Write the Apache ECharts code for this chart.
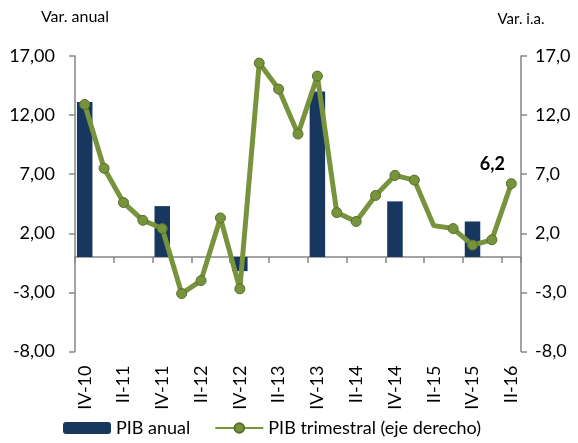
<!DOCTYPE html>
<html>
<head>
<meta charset="utf-8">
<script src="https://cdn.jsdelivr.net/npm/echarts@6/dist/echarts.min.js"></script>
<style>
  html, body { margin: 0; padding: 0; background: #fff; }
  #chart1 { width: 578px; height: 443px; }
</style>
</head>
<body>
<div id="chart1"></div>
<script>
// trimestres
var quarters = ['IV-10', 'I-11', 'II-11', 'III-11', 'IV-11', 'I-12', 'II-12', 'III-12', 'IV-12',
  'I-13', 'II-13', 'III-13', 'IV-13', 'I-14', 'II-14', 'III-14', 'IV-14',
  'I-15', 'II-15', 'III-15', 'IV-15', 'I-16', 'II-16'];
// PIB anual (solo en los IV trimestres)
var pibAnual = [13.1, null, null, null, 4.3, null, null, null, -1.2,
  null, null, null, 14.0, null, null, null, 4.7,
  null, null, null, 3.0, null, null];
// PIB trimestral (eje derecho)
var pibTrimestral = [12.9, 7.5, 4.6, 3.1, 2.4, -3.1, -2.0, 3.3, -2.7,
  16.4, 14.2, 10.4, 15.3, 3.75, 3.0, 5.2, 6.9,
  6.5, 2.65, 2.4, 1.0, 1.45, 6.2];
// marcas de los ejes
var yTicks = [-8, -3, 2, 7, 12, 17];

var fontFam = 'Lato, "Open Sans", sans-serif';
var gris = '#868686';
var last = pibTrimestral.length - 1;

var myChart = echarts.init(document.getElementById('chart1'));
myChart.setOption({
  animation: false,
  grid: { left: 75, right: 57, top: 56, bottom: 91.5 },
  legend: {
    bottom: 1,
    left: 58,
    itemWidth: 48,
    itemHeight: 12,
    itemGap: 24,
    textStyle: { fontFamily: fontFam, fontSize: 18, color: '#000' },
    data: ['PIB anual', 'PIB trimestral (eje derecho)']
  },
  xAxis: [
    { // etiquetas abajo
      type: 'category',
      data: quarters,
      position: 'bottom',
      axisLine: { show: false, onZero: false },
      axisTick: { show: false },
      axisLabel: {
        interval: 1,
        rotate: 90,
        margin: 14,
        fontFamily: fontFam,
        fontSize: 18,
        color: '#000'
      }
    },
    { // linea del cero con marcas
      type: 'category',
      data: quarters,
      position: 'bottom',
      axisLine: { show: true, onZero: true, lineStyle: { color: gris, width: 1.5 } },
      axisTick: { show: true, interval: 1, length: 6, lineStyle: { color: gris, width: 1.5 } },
      axisLabel: { show: false }
    }
  ],
  yAxis: [
    {
      type: 'value',
      min: -8,
      max: 17,
      name: 'Var. anual',
      nameLocation: 'end',
      nameGap: 31,
      nameTextStyle: { fontFamily: fontFam, fontSize: 16, color: '#000', align: 'center' },
      splitLine: { show: false },
      axisLine: { show: true, lineStyle: { color: gris, width: 1.5 } },
      axisTick: { show: true, length: 6, customValues: yTicks, lineStyle: { color: gris, width: 1.5 } },
      axisLabel: {
        customValues: yTicks,
        margin: 20,
        fontFamily: fontFam,
        fontSize: 18,
        color: '#000',
        formatter: function (v) { return v.toFixed(2).replace('.', ','); }
      }
    },
    {
      type: 'value',
      min: -8,
      max: 17,
      position: 'right',
      name: 'Var. i.a.',
      nameLocation: 'end',
      nameGap: 29,
      nameTextStyle: { fontFamily: fontFam, fontSize: 15, color: '#000', align: 'center' },
      splitLine: { show: false },
      axisLine: { show: true, lineStyle: { color: gris, width: 1.5 } },
      axisTick: { show: true, length: 6, customValues: yTicks, lineStyle: { color: gris, width: 1.5 } },
      axisLabel: {
        customValues: yTicks,
        margin: 14,
        fontFamily: fontFam,
        fontSize: 18,
        color: '#000',
        formatter: function (v) { return v.toFixed(1).replace('.', ','); }
      }
    }
  ],
  series: [
    {
      name: 'PIB anual',
      type: 'bar',
      xAxisIndex: 0,
      yAxisIndex: 0,
      barWidth: '80%',
      itemStyle: { color: '#17375e' },
      data: pibAnual
    },
    {
      name: 'PIB trimestral (eje derecho)',
      type: 'line',
      xAxisIndex: 0,
      yAxisIndex: 1,
      symbol: 'circle',
      symbolSize: function (v, p) { return p.dataIndex === 18 ? 0 : 10; },
      lineStyle: { color: '#77933c', width: 5 },
      itemStyle: { color: '#77933c', borderColor: '#56702a', borderWidth: 1 },
      label: {
        show: true,
        position: 'top',
        offset: [-19, 0],
        fontFamily: fontFam,
        fontSize: 18,
        fontWeight: 'bold',
        color: '#000',
        formatter: function (p) {
          return p.dataIndex === last ? p.value.toFixed(1).replace('.', ',') : '';
        }
      },
      data: pibTrimestral
    }
  ]
});
</script>
</body>
</html>
